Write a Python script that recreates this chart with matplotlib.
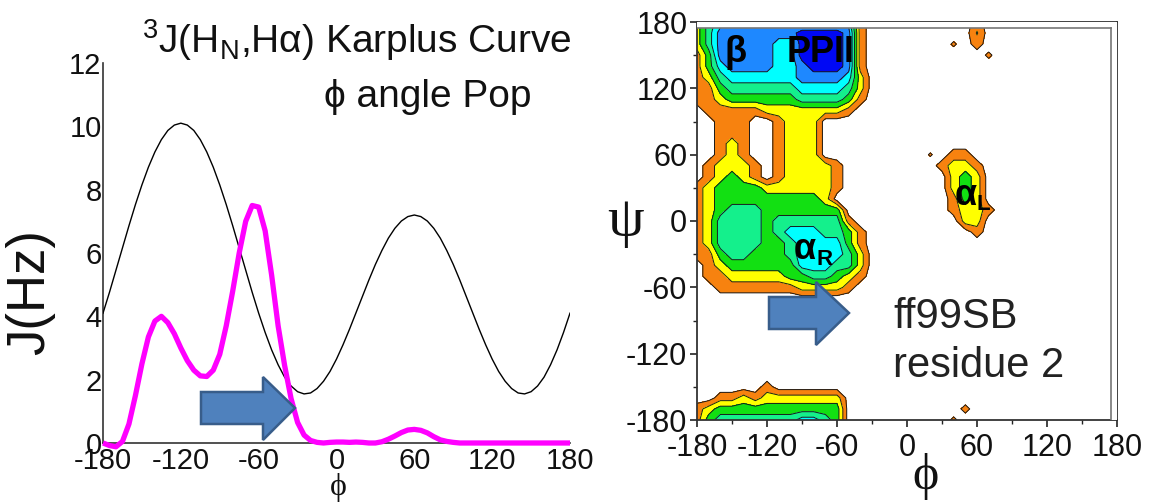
import numpy as np
import matplotlib
matplotlib.use("Agg")
import matplotlib.pyplot as plt
from matplotlib.patches import Polygon, Rectangle
from matplotlib.lines import Line2D

plt.rcParams['font.family'] = ['Liberation Sans', 'DejaVu Sans']
plt.rcParams['mathtext.fontset'] = 'custom'
plt.rcParams['mathtext.rm'] = 'Liberation Sans'
plt.rcParams['mathtext.it'] = 'Liberation Sans:italic'
plt.rcParams['mathtext.bf'] = 'Liberation Sans:bold'

# ---------------- left panel data ----------------
phi_deg = list(range(-180, 181, 5))
karplus_j = [4.10, 4.76, 5.46, 6.16, 6.86, 7.53, 8.15, 8.71, 9.19, 9.58, 9.87, 10.04,
             10.10, 10.04, 9.87, 9.58, 9.19, 8.71, 8.15, 7.53, 6.86, 6.16, 5.46, 4.76,
             4.10, 3.49, 2.94, 2.47, 2.08, 1.80, 1.62, 1.55, 1.58, 1.72, 1.95, 2.26,
             2.65, 3.10, 3.59, 4.11, 4.63, 5.15, 5.64, 6.08, 6.47, 6.78, 7.01, 7.15,
             7.20, 7.15, 7.01, 6.78, 6.47, 6.08, 5.64, 5.15, 4.63, 4.11, 3.59, 3.10,
             2.65, 2.26, 1.95, 1.72, 1.58, 1.55, 1.62, 1.80, 2.08, 2.47, 2.94, 3.49, 4.10]
phi_pop = [0.00, -0.08, -0.12, 0.05, 0.60, 1.50, 2.50, 3.35, 3.85, 4.00, 3.80, 3.45,
           3.00, 2.60, 2.30, 2.12, 2.10, 2.30, 2.80, 3.70, 4.80, 6.00, 7.00, 7.50,
           7.45, 6.70, 5.30, 3.70, 2.45, 1.40, 0.65, 0.25, 0.08, 0.02, 0.00, 0.02,
           0.03, 0.03, 0.02, 0.03, 0.02, 0.00, 0.00, 0.04, 0.12, 0.22, 0.33, 0.41,
           0.43, 0.40, 0.32, 0.20, 0.10, 0.05, 0.02, 0.00, 0.00, 0.00, 0.00, 0.00,
           0.00, 0.00, 0.00, 0.00, 0.00, 0.00, 0.00, 0.00, 0.00, 0.00, 0.00, 0.00, 0.00]
left_xticks = [-180, -120, -60, 0, 60, 120, 180]
left_yticks = [0, 2, 4, 6, 8, 10, 12]

# ---------------- right panel data (population level per 10 deg node) ----------------
rama_phi = list(range(-180, 181, 10))
rama_psi = list(range(180, -181, -10))
rama_levels = [
    "24555555555555100" "00000001000000000000",  # psi 180
    "24666666677776100" "00000001000000000000",  # 170
    "24666665577776100" "00000001000000000000",  # 160
    "13666665577776100",                          # 150
    "13566665567776100",                          # 140
    "12455555566665200",                          # 130
    "11344444455554200",                          # 120
    "11233333344443100",                          # 110
    "01111122222221000",                          # 100
    "00111001222000000",                          # 90
    "00111001222000000",                          # 80
    "00121001222000000",                          # 70
    "00121001222000000" "00000110000000000000",  # 60
    "01222101222210000" "00001221000000000000",  # 50
    "01232101222210000" "00000232000000000000",  # 40
    "12333322222210000" "00000232000000000000",  # 30
    "12333333333200000" "00000132000000000000",  # 20
    "12344433333330000" "00000122100000000000",  # 10
    "12444434444441000" "00000022000000000000",  # 0
    "12444434555443100" "00000001000000000000",  # -10
    "12444433455553100",                          # -20
    "11344333455554200",                          # -30
    "01233333355544200",                          # -40
    "01122222334432100",                          # -50
    "00111111122221000",                          # -60
    "0", "0", "0", "0", "0", "0", "0", "0",       # -70 .. -140
    "00000010000000000",                          # -150
    "00112122222220000",                          # -160
    "12333333333330000",                          # -170
    "13444444455430000",                          # -180
]
speck_phi = [60, 40, 70, 180, 20, 50, 40]
speck_psi = [170, 160, 150, 130, 60, -170, -180]
speck_val = [1.6, 0.65, 0.7, 0.6, 0.6, 0.8, 0.7]
rama_ticks = [-180, -120, -60, 0, 60, 120, 180]
rama_minor = [-150, -90, -30, 30, 90, 150]
level_colors = ['#F7820F', '#FFFF00', '#12E012', '#14F08C', '#00FFFF', '#1E88FF', '#0008F5']

W, H = 1151, 504
fig = plt.figure(figsize=(W / 100, H / 100), dpi=100)


def fx(x):
    return x / W


def fy(y):
    return 1 - y / H


# ---------------- left panel ----------------
axL = fig.add_axes([fx(103), fy(443), fx(570) - fx(103), fy(63) - fy(443)])
axL.plot(phi_deg, karplus_j, color='black', lw=1.0, zorder=3)
axL.plot(phi_deg, phi_pop, color='#FF00FF', lw=3.8, zorder=4, clip_on=False,
         solid_capstyle='butt')
axL.set_xlim(-180, 180)
axL.set_ylim(0, 12)
axL.set_xticks(left_xticks)
axL.set_yticks(left_yticks)
axL.set_xticklabels([str(v) for v in left_xticks])
axL.set_yticklabels([str(v) for v in left_yticks])
axL.tick_params(axis='both', length=0, labelsize=21, colors='#111111')
axL.tick_params(axis='y', pad=1)
axL.tick_params(axis='x', pad=3)
for s in ['top', 'right']:
    axL.spines[s].set_visible(False)
for s in ['left', 'bottom']:
    axL.spines[s].set_color('#333333')
    axL.spines[s].set_linewidth(1.2)
axL.patch.set_alpha(0)

fig.text(fx(142), fy(53), r'$^{3}$J(H$_{\mathrm{N}}$,Hα) Karplus Curve', fontsize=28,
         ha='left', va='baseline', color='#111111')
fig.text(fx(324), fy(107), 'ϕ angle Pop', fontsize=28, ha='left', va='baseline',
         color='#111111', family=['Liberation Sans', 'DejaVu Sans'])
fig.text(fx(30), fy(292), 'J(Hz)', fontsize=38, rotation=90, ha='center', va='center',
         color='#111111')
fig.text(fx(338), fy(488), 'ϕ', fontsize=23, ha='center', va='center', color='#111111',
         family=['Liberation Serif', 'DejaVu Serif'])

# ---------------- right panel ----------------
rows = [r.ljust(37, '0') for r in rama_levels]
Z = np.array([[float(c) for c in r] for r in rows])
for p, q, v in zip(speck_phi, speck_psi, speck_val):
    Z[rama_psi.index(q), rama_phi.index(p)] = v
PHI, PSI = np.meshgrid(rama_phi, rama_psi)

x0, x1, y0, y1 = 697, 1117, 22, 420
axR = fig.add_axes([fx(x0), fy(y1), fx(x1) - fx(x0), fy(y0) - fy(y1)])
lv = [0.5, 1.5, 2.5, 3.5, 4.5, 5.5, 6.5, 7.5]
axR.contourf(PHI, PSI, Z, levels=lv, colors=level_colors, zorder=1)
axR.contour(PHI, PSI, Z, levels=lv[:-1], colors='#1a1a1a', linewidths=0.7, zorder=2)
axR.set_xlim(-180, 180)
axR.set_ylim(-180, 180)
axR.set_xticks(rama_ticks)
axR.set_yticks(rama_ticks)
axR.set_xticks(rama_minor, minor=True)
axR.set_yticks(rama_minor, minor=True)
axR.set_xticklabels([str(v) for v in rama_ticks])
axR.set_yticklabels([str(v) for v in rama_ticks])
axR.tick_params(which='major', direction='out', length=5, width=1.2, labelsize=22,
                colors='#222222', labelcolor='#111111')
axR.tick_params(which='minor', direction='out', length=3, width=1.0, colors='#222222')
axR.tick_params(axis='y', which='major', pad=2)
axR.tick_params(axis='x', which='major', pad=4)
for s in axR.spines.values():
    s.set_linewidth(1.3)
    s.set_color('#333333')
# double frame at top and right
ti = 1 - 6 / (y1 - y0)
ri = 1 - 6 / (x1 - x0)
axR.add_patch(Rectangle((0, ti), 1, 1 - ti, transform=axR.transAxes, color='white',
                        zorder=3, lw=0))
axR.add_patch(Rectangle((ri, 0), 1 - ri, 1, transform=axR.transAxes, color='white',
                        zorder=3, lw=0))
axR.add_line(Line2D([0, ri], [ti, ti], transform=axR.transAxes, color='#777777',
                    lw=1.2, zorder=4))
axR.add_line(Line2D([ri, ri], [0, ti], transform=axR.transAxes, color='#777777',
                    lw=1.2, zorder=4))

lab = dict(fontsize=26, fontweight='bold', color='black', zorder=6, va='center')
axR.text(-147, 152, 'β', ha='center', **lab)
axR.text(-74, 152, 'PPII', ha='center', **lab)
axR.text(-88, -26, 'α', ha='center', **lab)
axR.text(-78, -35, 'R', ha='left', fontsize=16, fontweight='bold', color='black',
         zorder=6, va='center')
axR.text(50, 23, 'α', ha='center', **lab)
axR.text(60, 15, 'L', ha='left', fontsize=16, fontweight='bold', color='black',
         zorder=6, va='center')

fig.text(fx(625), fy(222), 'ψ', fontsize=42, ha='center', va='center', color='#111111',
         family=['Liberation Serif', 'DejaVu Serif'])
fig.text(fx(925), fy(476), 'ϕ', fontsize=36, ha='center', va='center', color='#111111',
         family=['Liberation Serif', 'DejaVu Serif'])
fig.text(fx(893), fy(328), 'ff99SB', fontsize=30, ha='left', va='baseline',
         color='#222222')
fig.text(fx(893), fy(377), 'residue 2', fontsize=30, ha='left', va='baseline',
         color='#222222')

# ---------------- block arrows ----------------


def block_arrow(bx0, bx1, by0, by1, hy0, hy1, tipx):
    tipy = (by0 + by1) / 2
    pts = [(bx0, by0), (bx1, by0), (bx1, hy0), (tipx, tipy), (bx1, hy1), (bx1, by1),
           (bx0, by1)]
    pts = [(fx(a), fy(b)) for a, b in pts]
    fig.add_artist(Polygon(pts, closed=True, transform=fig.transFigure,
                           facecolor='#4F81BD', edgecolor='#385D8A', lw=1.8, zorder=10))


block_arrow(201, 263, 392, 424, 377, 440, 295)
block_arrow(769, 816, 297, 329, 282, 345, 849)

fig.savefig('out.png', dpi=100)
